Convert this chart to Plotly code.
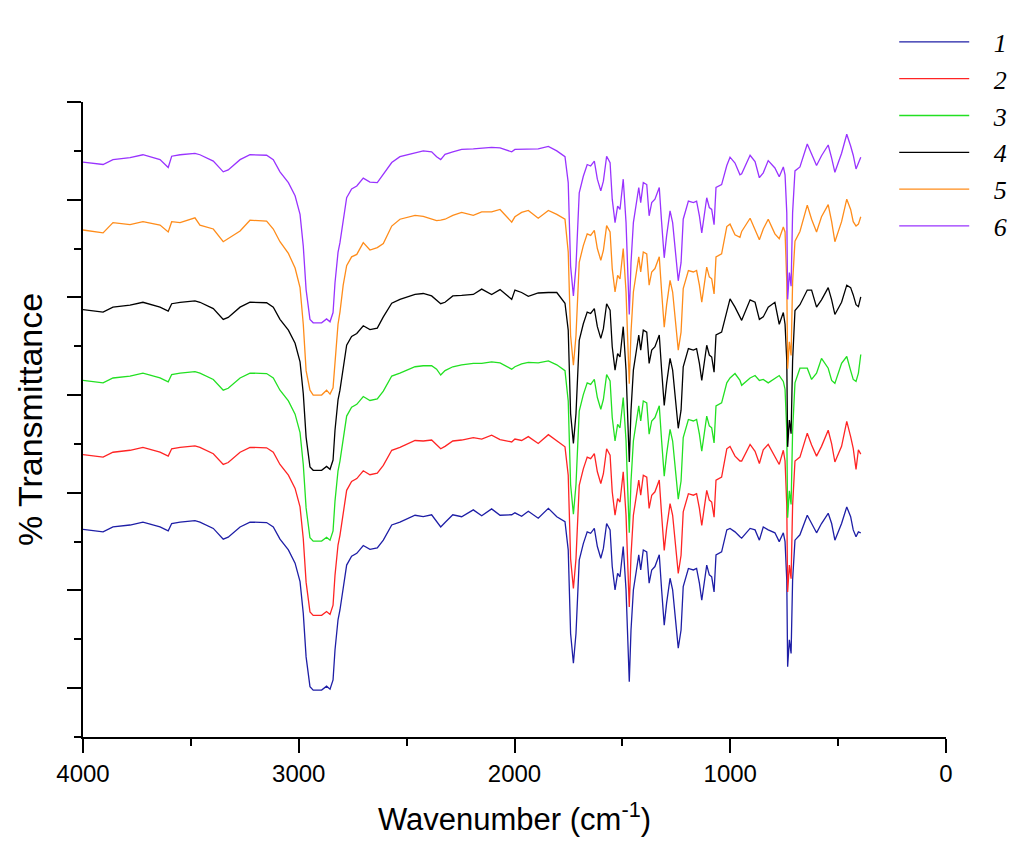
import plotly.graph_objects as go

# Wavenumber grid (cm-1) shared by all spectra
wavenumber = [4000, 3907, 3861, 3782, 3722, 3643, 3605, 3589, 3550, 3481,
              3458, 3396, 3350, 3327, 3272, 3226, 3149, 3118, 3087, 3048,
              3017, 2994, 2979, 2966, 2948, 2933, 2894, 2871, 2855, 2841,
              2832, 2818, 2809, 2794, 2778, 2755, 2731, 2701, 2670, 2636,
              2608, 2569, 2531, 2461, 2423, 2384, 2361, 2342, 2322, 2286,
              2245, 2191, 2152, 2106, 2067, 2013, 1998, 1967, 1936, 1890,
              1843, 1804, 1766, 1751, 1740, 1727, 1715, 1700, 1681, 1663,
              1647, 1630, 1616, 1600, 1588, 1573, 1557, 1547, 1534, 1522,
              1511, 1496, 1483, 1475, 1468, 1460, 1449, 1424, 1415, 1403,
              1387, 1376, 1364, 1349, 1329, 1318, 1306, 1295, 1279, 1267,
              1251, 1241, 1228, 1218, 1194, 1171, 1156, 1143, 1132, 1120,
              1109, 1097, 1086, 1075, 1066, 1040, 1016, 1001, 978, 955,
              947, 908, 885, 865, 847, 824, 793, 773, 754, 746,
              738, 734, 726, 718, 711, 700, 677, 643, 623, 600,
              577, 546, 530, 515, 484, 460, 442, 430, 417, 406, 395]

spectrum_1 = [42.5, 42.0, 43.0, 43.4, 44.0, 43.0, 42.2, 43.7, 44.0, 44.3,
              44.0, 42.7, 40.5, 40.9, 43.0, 44.0, 43.9, 43.0, 40.5, 38.3,
              35.6, 31.8, 25.3, 16.4, 10.3, 9.6, 9.6, 10.4, 9.8, 11.7,
              17.8, 24.0, 26.0, 30.8, 35.2, 37.0, 37.6, 39.2, 38.4, 38.7,
              40.3, 43.4, 44.0, 45.4, 45.1, 45.5, 44.1, 43.0, 43.9, 45.5,
              45.1, 46.5, 45.3, 46.7, 45.4, 45.5, 45.9, 45.2, 46.2, 44.8,
              46.8, 45.1, 44.1, 38.3, 21.2, 15.1, 21.2, 36.2, 39.6, 42.0,
              41.7, 42.7, 39.0, 36.6, 38.6, 43.7, 42.4, 34.9, 30.1, 33.5,
              32.8, 39.0, 30.1, 19.9, 11.3, 21.9, 30.1, 37.3, 34.2, 38.3,
              37.9, 31.5, 34.2, 34.9, 37.3, 30.1, 22.9, 27.4, 32.5, 30.1,
              22.6, 18.2, 21.9, 30.8, 34.5, 34.2, 34.5, 31.5, 28.0, 32.1,
              35.2, 33.2, 32.8, 29.7, 37.3, 37.9, 42.4, 42.7, 42.0, 41.0,
              40.7, 42.7, 42.4, 40.3, 43.0, 42.4, 41.8, 40.0, 41.8, 40.0,
              32.1, 14.4, 19.9, 17.1, 32.1, 40.3, 41.4, 45.4, 43.7, 41.8,
              43.7, 45.8, 43.7, 40.3, 43.7, 47.1, 45.1, 42.4, 41.0, 42.0, 41.8]

spectrum_2 = [57.8, 57.3, 58.3, 58.7, 59.3, 58.3, 57.5, 59.0, 59.3, 59.6,
              59.3, 58.0, 55.8, 56.2, 58.3, 59.3, 59.2, 58.3, 55.8, 53.6,
              50.9, 47.1, 40.6, 31.7, 25.6, 24.9, 24.9, 25.7, 25.1, 27.0,
              33.1, 39.3, 41.3, 46.1, 50.5, 52.3, 52.9, 54.5, 53.7, 54.0,
              55.6, 58.7, 59.3, 60.7, 60.6, 60.8, 59.9, 59.0, 59.5, 60.6,
              60.8, 61.3, 61.0, 61.8, 60.9, 60.4, 61.0, 60.7, 61.5, 60.1,
              61.9, 60.6, 59.4, 53.6, 36.5, 30.4, 36.5, 51.5, 54.9, 57.3,
              57.0, 58.0, 54.3, 51.9, 53.9, 59.0, 57.7, 50.2, 45.4, 48.8,
              48.1, 54.3, 45.4, 35.2, 26.6, 37.2, 45.4, 52.6, 49.5, 53.6,
              53.2, 46.8, 49.5, 50.2, 52.6, 45.4, 38.2, 42.7, 47.8, 45.4,
              37.9, 33.5, 37.2, 46.1, 49.8, 49.5, 49.8, 46.8, 43.3, 47.4,
              50.5, 48.5, 48.1, 45.0, 52.6, 53.2, 59.0, 59.5, 57.5, 56.5,
              56.5, 59.9, 58.5, 56.0, 58.8, 59.9, 57.5, 55.8, 58.7, 56.5,
              47.4, 29.7, 35.2, 32.4, 47.4, 56.5, 57.3, 62.2, 59.8, 57.5,
              59.5, 62.8, 60.0, 56.3, 59.5, 64.6, 61.5, 59.1, 54.8, 58.8, 57.9]

spectrum_3 = [73.0, 72.5, 73.5, 73.9, 74.5, 73.5, 72.7, 74.2, 74.5, 74.8,
              74.5, 73.2, 71.0, 71.4, 73.5, 74.5, 74.4, 73.5, 71.0, 68.8,
              66.1, 62.3, 55.8, 46.9, 40.8, 40.1, 40.1, 40.9, 40.3, 42.2,
              48.3, 54.5, 56.5, 61.3, 65.7, 67.5, 68.1, 69.7, 68.9, 69.2,
              70.8, 73.9, 74.5, 75.8, 76.0, 76.0, 75.3, 74.1, 75.0, 75.8,
              76.2, 76.5, 76.5, 76.8, 76.6, 75.3, 75.8, 76.4, 76.7, 76.6,
              77.0, 76.2, 75.0, 68.8, 51.7, 45.6, 51.7, 66.7, 70.1, 72.5,
              72.2, 73.2, 69.5, 67.1, 69.1, 74.2, 72.9, 65.4, 60.6, 64.0,
              63.3, 69.5, 60.6, 50.4, 41.8, 52.4, 60.6, 67.8, 64.7, 68.8,
              68.4, 62.0, 64.7, 65.4, 67.8, 60.6, 53.4, 57.9, 63.0, 60.6,
              53.1, 48.7, 52.4, 61.3, 65.0, 64.7, 65.0, 62.0, 58.5, 62.6,
              65.7, 63.7, 63.3, 60.2, 67.8, 68.4, 72.5, 73.5, 74.4, 73.0,
              72.0, 73.5, 74.0, 73.0, 73.2, 72.5, 73.5, 74.0, 72.8, 71.2,
              62.6, 44.9, 50.4, 47.6, 62.6, 72.5, 75.5, 75.5, 73.2, 74.5,
              77.5, 75.5, 73.0, 72.4, 76.5, 77.9, 75.0, 73.2, 72.8, 74.5, 78.3]

spectrum_4 = [87.5, 87.0, 88.0, 88.4, 89.0, 88.0, 87.2, 88.7, 89.0, 89.3,
              89.0, 87.7, 85.5, 85.9, 88.0, 89.0, 88.9, 88.0, 85.5, 83.3,
              80.6, 76.8, 70.3, 61.4, 55.3, 54.6, 54.6, 55.4, 54.8, 56.7,
              62.8, 69.0, 71.0, 75.8, 80.2, 82.0, 82.6, 84.2, 83.4, 83.7,
              86.0, 88.8, 89.6, 90.6, 90.8, 90.3, 89.4, 88.7, 89.0, 90.3,
              90.4, 90.6, 91.7, 90.6, 91.6, 89.6, 91.5, 91.0, 90.2, 90.9,
              91.0, 91.0, 88.8, 83.3, 66.2, 60.1, 66.2, 81.2, 84.6, 87.0,
              86.7, 87.7, 84.0, 81.6, 83.6, 88.7, 87.4, 79.9, 75.1, 78.5,
              77.8, 84.0, 75.1, 64.9, 56.3, 66.9, 75.1, 82.3, 79.2, 83.3,
              82.9, 76.5, 79.2, 79.9, 82.3, 75.1, 67.9, 72.4, 77.5, 75.1,
              67.6, 63.2, 66.9, 75.8, 79.5, 79.2, 79.5, 76.5, 73.0, 77.1,
              80.2, 78.2, 77.8, 74.7, 82.3, 82.9, 87.5, 89.7, 88.0, 85.8,
              85.3, 89.5, 89.0, 85.5, 86.0, 88.0, 89.0, 84.5, 86.9, 84.5,
              77.1, 59.4, 64.9, 62.1, 77.1, 87.3, 88.5, 91.5, 91.5, 88.0,
              89.5, 92.0, 89.5, 86.5, 89.0, 92.5, 92.0, 90.5, 88.5, 88.1, 90.1]

spectrum_5 = [103.8, 103.2, 105.3, 104.9, 105.5, 104.8, 103.4, 105.5, 105.3, 106.3,
              104.8, 104.0, 101.4, 102.0, 103.6, 105.8, 105.6, 104.0, 101.4, 99.0,
              96.0, 92.0, 84.5, 75.0, 71.0, 70.0, 70.0, 71.0, 70.2, 71.5,
              77.5, 84.5, 87.0, 92.5, 96.5, 98.3, 98.8, 101.2, 99.7, 100.2,
              101.0, 104.6, 106.0, 106.8, 106.6, 106.0, 105.7, 105.8, 106.0, 106.8,
              107.4, 106.8, 107.5, 107.5, 108.0, 105.4, 106.5, 107.4, 107.8, 106.2,
              107.8, 107.0, 106.0, 99.3, 82.2, 76.1, 82.2, 97.2, 100.6, 103.0,
              102.7, 103.7, 100.0, 97.6, 99.6, 104.7, 103.4, 95.9, 91.1, 94.5,
              93.8, 100.0, 91.1, 80.9, 72.3, 82.9, 91.1, 98.3, 95.2, 99.3,
              98.9, 92.5, 95.2, 95.9, 98.3, 91.1, 83.9, 88.4, 93.5, 91.1,
              83.6, 79.2, 82.9, 91.8, 95.5, 95.2, 95.5, 92.5, 89.0, 93.1,
              96.2, 94.2, 93.8, 90.7, 98.3, 98.9, 104.5, 105.0, 102.8, 102.3,
              103.5, 106.2, 104.0, 101.8, 104.0, 106.0, 103.0, 102.0, 104.4, 103.4,
              93.1, 75.4, 80.9, 78.1, 93.1, 101.5, 103.5, 108.9, 106.0, 103.4,
              106.5, 109.0, 105.5, 101.4, 105.5, 110.1, 108.0, 105.5, 104.6, 105.0, 106.5]

spectrum_6 = [117.7, 117.2, 118.2, 118.6, 119.2, 118.2, 116.6, 118.9, 119.2, 119.5,
              119.2, 117.9, 115.7, 116.1, 118.2, 119.2, 119.1, 118.2, 115.7, 113.5,
              110.8, 107.0, 100.5, 91.6, 85.5, 84.8, 84.8, 85.6, 85.0, 86.9,
              93.0, 99.2, 101.2, 106.0, 110.4, 112.2, 112.8, 114.4, 113.6, 113.5,
              115.2, 117.6, 118.8, 119.6, 120.0, 119.8, 118.8, 118.2, 119.3, 119.8,
              120.3, 120.4, 120.5, 120.7, 120.6, 119.8, 120.3, 120.3, 120.3, 120.4,
              120.9, 120.0, 118.8, 113.5, 96.4, 90.3, 96.4, 111.4, 114.8, 117.2,
              116.9, 117.9, 114.2, 111.8, 113.8, 118.9, 117.6, 110.1, 105.3, 108.7,
              108.0, 114.2, 105.3, 95.1, 86.5, 97.1, 105.3, 112.5, 109.4, 113.5,
              113.1, 106.7, 109.4, 110.1, 112.5, 105.3, 98.1, 102.6, 107.7, 105.3,
              97.8, 93.4, 97.1, 106.0, 109.7, 109.4, 109.7, 106.7, 103.2, 107.3,
              110.4, 108.4, 108.0, 104.9, 112.5, 113.1, 117.0, 118.7, 117.5, 115.1,
              115.3, 119.1, 117.8, 114.5, 115.5, 118.0, 116.5, 114.7, 116.7, 115.1,
              107.3, 89.6, 95.1, 92.3, 107.3, 115.9, 116.7, 121.4, 119.5, 117.0,
              119.0, 121.2, 118.5, 115.6, 119.5, 123.4, 121.0, 119.1, 116.3, 117.5, 118.7]

series_names = ["1", "2", "3", "4", "5", "6"]
series_values = [spectrum_1, spectrum_2, spectrum_3, spectrum_4, spectrum_5, spectrum_6]
series_colors = ["#1e1ea6", "#ff2424", "#22e022", "#000000", "#ff8c1a", "#9933ff"]

x_ticks = [4000, 3000, 2000, 1000, 0]
x_minor = [3500, 2500, 1500, 500]
y_major = [10, 30, 50, 70, 90, 110, 130]
y_minor = [0, 20, 40, 60, 80, 100, 120]

fig = go.Figure()
for name, vals, col in zip(series_names, series_values, series_colors):
    fig.add_trace(go.Scatter(x=wavenumber, y=vals, mode="lines",
                             name="\u00a0\u00a0\u00a0<i>" + name + "</i>",
                             line=dict(color=col, width=1.3)))

axis_font = dict(family="Arial, Liberation Sans, sans-serif", size=24, color="#000000")
title_font_x = dict(family="Arial, Liberation Sans, sans-serif", size=31, color="#000000")
title_font_y = dict(family="Arial, Liberation Sans, sans-serif", size=34, color="#000000")

fig.update_layout(
    width=1016, height=844,
    margin=dict(l=75, r=78, t=94, b=115, autoexpand=False),
    paper_bgcolor="white", plot_bgcolor="white",
    showlegend=True,
    legend=dict(x=0.94, y=1.1315, xanchor="left", yanchor="top",
                font=dict(family="Liberation Serif, DejaVu Serif, serif", size=26, color="#000000"),
                bgcolor="rgba(0,0,0,0)", itemwidth=70, tracegroupgap=0),
    xaxis=dict(range=[4000, 0], tickmode="array", tickvals=x_ticks, automargin=False,
               ticks="outside", ticklen=14, tickwidth=2, tickcolor="black",
               minor=dict(tickmode="array", tickvals=x_minor, ticks="outside", ticklen=7,
                          tickwidth=2, tickcolor="black"),
               showline=True, linecolor="black", linewidth=2,
               showgrid=False, zeroline=False, tickfont=axis_font,
               title=dict(text="Wavenumber (cm<sup>-1</sup>)", font=title_font_x, standoff=23)),
    yaxis=dict(range=[0, 130], tickmode="array", tickvals=y_major, showticklabels=False,
               automargin=False,
               ticks="outside", ticklen=14, tickwidth=2, tickcolor="black",
               minor=dict(tickmode="array", tickvals=y_minor, ticks="outside", ticklen=7,
                          tickwidth=2, tickcolor="black"),
               showline=True, linecolor="black", linewidth=2,
               showgrid=False, zeroline=False,
               title=dict(text="% Transmittance", font=title_font_y, standoff=14)),
)

fig.write_html("out.html")
